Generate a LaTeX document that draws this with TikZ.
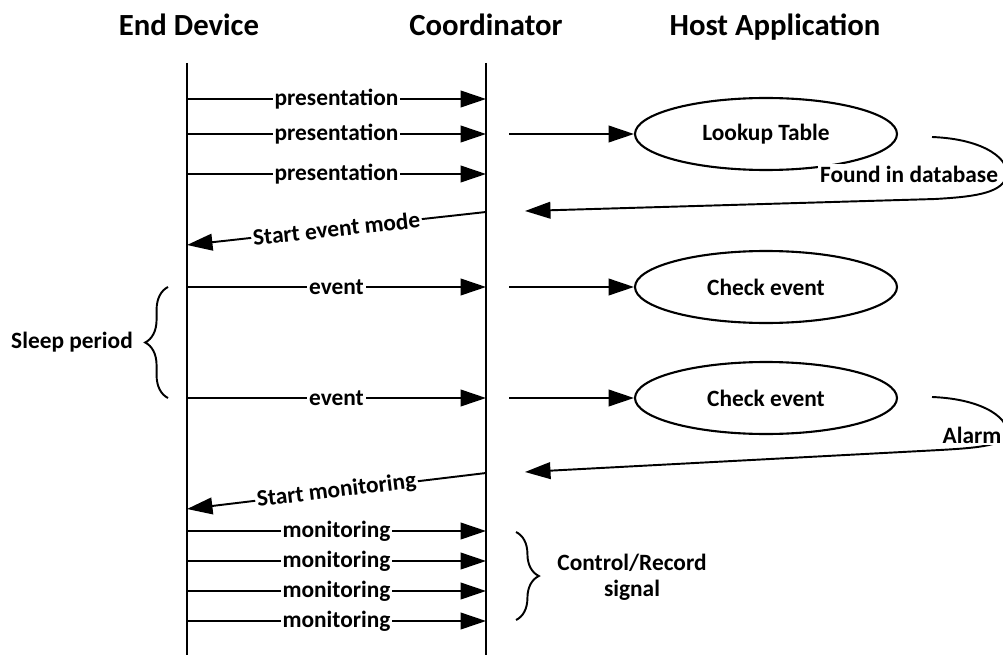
\documentclass[tikz,border=0pt]{standalone}
\usepackage{fontspec}
\setmainfont{Carlito}
\usetikzlibrary{arrows.meta,shapes.geometric,decorations.pathreplacing}

\tikzset{
  head/.style={anchor=base,font=\fontsize{17.5}{20}\selectfont\bfseries},
  lbl/.style={fill=white,inner sep=1pt,font=\fontsize{13.3}{15}\selectfont\bfseries},
  life/.style={line width=1.1pt},
  msg/.style={line width=1.1pt,-{Triangle[length=14.5pt,width=9.5pt]}},
  task/.style={ellipse,draw,line width=1.2pt,minimum width=5.24cm,minimum height=1.44cm,
    font=\fontsize{13.3}{15}\selectfont\bfseries},
  curly/.style={line width=1.1pt,decorate,decoration={brace,amplitude=13pt}},
}

\begin{document}
\begin{tikzpicture}[x=0.02cm,y=-0.02cm]
	\useasboundingbox (0,0) rectangle (1003,655);

	% headers and lifelines
	\node[head] (edhead) at (189,36) {End Device};
	\node[head] (cohead) at (486,36) {Coordinator};
	\node[head] (hahead) at (775,36) {Host Application};
	\coordinate (ed) at (187,63);
	\coordinate (co) at (486,63);
	\draw[life] (ed) -- (ed |- 0,655);
	\draw[life] (co) -- (co |- 0,655);

	% end device -> coordinator
	\foreach \y in {99,134,174}
		\draw[msg] (ed |- 0,\y) -- node[lbl] {presentation} (co |- 0,\y);
	\foreach \y in {287,398}
		\draw[msg] (ed |- 0,\y) -- node[lbl] {event} (co |- 0,\y);
	\foreach \y in {531,561,591,621}
		\draw[msg] (ed |- 0,\y) -- node[lbl] {monitoring} (co |- 0,\y);

	% coordinator -> end device
	\draw[msg] (co |- 0,212) -- node[lbl,sloped] {Start event mode} (ed |- 0,245);
	\draw[msg] (co |- 0,473) -- node[lbl,sloped] {Start monitoring} (ed |- 0,509);

	% host application
	\node[task] (lookup) at (766,134) {Lookup Table};
	\node[task] (check1) at (766,287) {Check event};
	\node[task] (check2) at (766,398) {Check event};
	\draw[msg] (509,134) -- (lookup.west);
	\draw[msg] (509,287) -- (check1.west);
	\draw[msg] (509,398) -- (check2.west);

	% replies from host
	\coordinate (lookout) at (932,137);
	\coordinate (foundend) at (525,211);
	\draw[msg] (lookout) .. controls (985,139) and (1012,160) .. (1006,178)
		.. controls (1000,194) and (970,197) .. (935,199) -- (foundend);
	\node[lbl] (found) at (909,174) {Found in database};

	\coordinate (checkout) at (932,397);
	\coordinate (alarmend) at (525,472);
	\draw[msg] (checkout) .. controls (985,399) and (1012,420) .. (1006,436)
		.. controls (1000,446) and (975,448) .. (940,450) -- (alarmend);
	\node[lbl] (alarm) at (972,435) {Alarm};

	% braces
	\draw[curly] (168,398) -- (168,287);
	\node[lbl] (sleep) at (72,342) {Sleep period};
	\draw[curly] (516,532) -- (516,620);
	\node[lbl,align=center] (ctrl) at (632,577) {Control/Record\\signal};
\end{tikzpicture}
\end{document}
